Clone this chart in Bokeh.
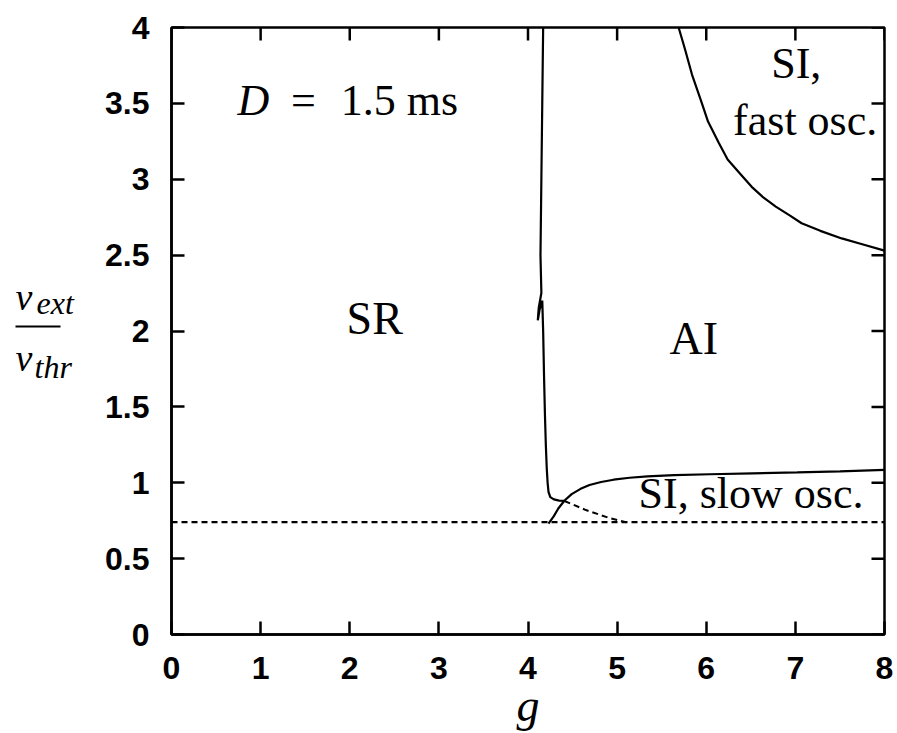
from bokeh.plotting import figure
from bokeh.layouts import row
from bokeh.models import Range1d, FixedTicker
from bokeh.core.properties import value
from bokeh.embed import file_html
from bokeh.resources import INLINE

# ---- data ----
x_ticks = [0, 1, 2, 3, 4, 5, 6, 7, 8]
y_ticks = [0, 0.5, 1, 1.5, 2, 2.5, 3, 3.5, 4]
x_tick_labels = {t: str(t) for t in x_ticks}
y_tick_labels = {0: "0", 0.5: "0.5", 1: "1", 1.5: "1.5", 2: "2", 2.5: "2.5", 3: "3", 3.5: "3.5", 4: "4"}

# threshold (dashed horizontal)
thr_g = [0.0, 8.0]
thr_nu = [0.74, 0.74]

# SR / AI boundary (near-vertical)
sr_g = [4.17, 4.16, 4.15, 4.14, 4.15, 4.12, 4.11, 4.13, 4.16, 4.17, 4.18, 4.19, 4.20, 4.21, 4.22, 4.23, 4.25, 4.29, 4.35, 4.41]
sr_nu = [4.0, 3.5, 3.0, 2.5, 2.25, 2.15, 2.07, 2.14, 2.2, 2.0, 1.7, 1.45, 1.25, 1.1, 1.0, 0.94, 0.905, 0.89, 0.882, 0.88]

# dashed continuation below crossing
dash_g = [4.41, 4.65, 4.9, 5.1]
dash_nu = [0.88, 0.82, 0.77, 0.74]

# AI / SI slow oscillation boundary
slow_g = [4.23, 4.29, 4.34, 4.41, 4.49, 4.59, 4.69, 4.82, 4.96, 5.14, 5.34, 5.64, 6.04, 6.52, 7.02, 7.5, 8.0]
slow_nu = [0.73, 0.78, 0.83, 0.883, 0.925, 0.96, 0.985, 1.005, 1.02, 1.033, 1.042, 1.05, 1.056, 1.062, 1.068, 1.075, 1.085]

# AI / SI fast oscillation boundary
fast_g = [5.69, 5.76, 5.84, 5.94, 6.02, 6.14, 6.24, 6.39, 6.51, 6.64, 6.78, 6.94, 7.07, 7.28, 7.52, 7.76, 8.0]
fast_nu = [4.0, 3.86, 3.69, 3.52, 3.38, 3.24, 3.13, 3.03, 2.95, 2.88, 2.82, 2.76, 2.71, 2.66, 2.61, 2.57, 2.53]

serif = "Liberation Serif"

# ---- main figure ----
LEFT_W = 90
p = figure(width=897 - LEFT_W, height=733,
           x_range=Range1d(0, 8), y_range=Range1d(0, 4),
           output_backend="svg", toolbar_location=None,
           min_border_left=171 - LEFT_W, min_border_top=27, min_border_right=13, min_border_bottom=99)
p.outline_line_color = "black"
p.outline_line_width = 2.5
p.grid.visible = False
p.background_fill_color = "white"
p.border_fill_color = "white"

for ax, tks, labs in ((p.xaxis[0], x_ticks, x_tick_labels), (p.yaxis[0], y_ticks, y_tick_labels)):
    ax.ticker = FixedTicker(ticks=tks)
    ax.axis_line_width = 2.5
    ax.axis_line_color = "black"
    ax.major_tick_in = 13
    ax.major_tick_out = 0
    ax.major_tick_line_width = 2.5
    ax.minor_tick_line_color = None
    ax.major_label_overrides = labs
    ax.major_label_text_font = "Liberation Sans"
    ax.major_label_text_font_size = "32px"
    ax.major_label_text_font_style = "bold"
    ax.major_label_text_color = "black"
    ax.major_label_standoff = 22

p.xaxis.axis_label = "g"
p.xaxis.axis_label_text_font = serif
p.xaxis.axis_label_text_font_style = "italic"
p.xaxis.axis_label_text_font_size = "46px"
p.xaxis.axis_label_text_color = "black"
p.xaxis.axis_label_standoff = -2

# mirrored ticks on top and right (same tick arrays, lengths from the ranges)
tick_len_y = 13 / 607 * (p.y_range.end - p.y_range.start)
tick_len_x = 13 / 713 * (p.x_range.end - p.x_range.start)
p.segment(x0=x_ticks, y0=[p.y_range.end] * len(x_ticks), x1=x_ticks,
          y1=[p.y_range.end - tick_len_y] * len(x_ticks), line_color="black", line_width=2.5)
p.segment(x0=[p.x_range.end] * len(y_ticks), y0=y_ticks, x1=[p.x_range.end - tick_len_x] * len(y_ticks),
          y1=y_ticks, line_color="black", line_width=2.5)

# ---- curves ----
p.line(thr_g, thr_nu, line_color="black", line_width=2.2, line_dash="6 4")
p.line(dash_g, dash_nu, line_color="black", line_width=2.0, line_dash="6 4")
p.line(sr_g, sr_nu, line_color="black", line_width=2.2)
p.line(slow_g, slow_nu, line_color="black", line_width=2.2)
p.line(fast_g, fast_nu, line_color="black", line_width=2.2)

# ---- texts ----
def txt(fig, x, y, text, size, style="normal", align="left"):
    fig.text(x=[x], y=[y], text=[text], text_font=value(serif), text_font_size=value(size),
             text_font_style=style, text_align=align, text_baseline="alphabetic",
             text_color="black")

txt(p, 0.74, 3.52, "D", "44px", "italic")
txt(p, 1.48, 3.52, "=", "44px", align="center")
txt(p, 1.90, 3.52, "1.5 ms", "44px")
txt(p, 2.28, 2.08, "SR", "46px", align="center")
txt(p, 5.86, 1.95, "AI", "46px", align="center")
txt(p, 7.01, 3.76, "SI,", "44px", align="center")
txt(p, 7.11, 3.39, "fast osc.", "44px", align="center")
txt(p, 5.24, 0.93, "SI, slow osc.", "44px")

# ---- left strip holding the y-axis label (shares the y scale of the main plot) ----
lf = figure(width=LEFT_W, height=733, x_range=Range1d(0, LEFT_W), y_range=p.y_range,
            x_axis_type=None, y_axis_type=None,
            output_backend="svg", toolbar_location=None,
            min_border_left=0, min_border_right=0, min_border_top=27, min_border_bottom=99)
lf.grid.visible = False
lf.outline_line_color = None
lf.background_fill_color = "white"
lf.border_fill_color = "white"

txt(lf, 15, 2.225, "\u03bd", "38px", "italic")
txt(lf, 36, 2.182, "ext", "32px", "italic")
lf.segment(x0=[15], y0=[2.03], x1=[60], y1=[2.03], line_color="black", line_width=2)
txt(lf, 15, 1.825, "\u03bd", "38px", "italic")
txt(lf, 34, 1.765, "thr", "32px", "italic")

layout = row(lf, p, spacing=0)
open("out.html", "w").write(file_html(layout, INLINE))
